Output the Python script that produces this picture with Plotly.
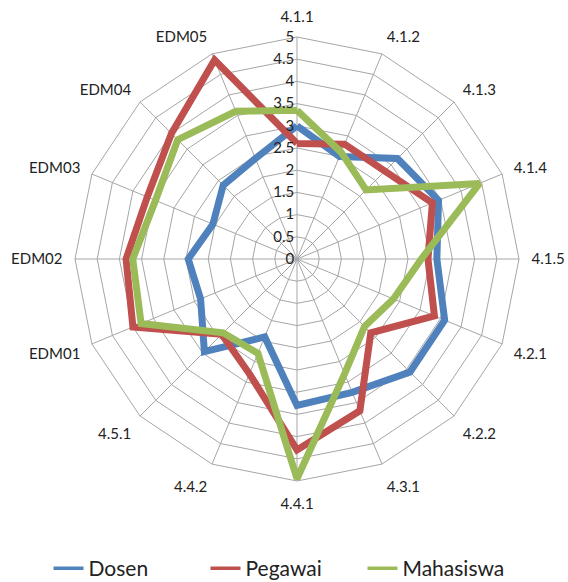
import plotly.graph_objects as go

categories = ["4.1.1", "4.1.2", "4.1.3", "4.1.4", "4.1.5", "4.2.1", "4.2.2", "4.3.1",
              "4.4.1", "4.4.2", "4.5.1", "EDM01", "EDM02", "EDM03", "EDM04", "EDM05"]
dosen = [3.0, 2.5, 3.2, 3.45, 3.15, 3.6, 3.6, 3.25, 3.3, 1.9, 2.95, 2.35, 2.45, 2.05, 2.35, 2.45]
pegawai = [2.6, 2.8, 2.8, 3.3, 2.95, 3.35, 2.35, 3.7, 4.3, 2.8, 2.4, 4.0, 3.85, 3.65, 4.0, 4.85]
mahasiswa = [3.35, 2.6, 2.2, 4.45, 2.8, 2.35, 2.15, 2.8, 4.95, 2.3, 2.35, 3.8, 3.7, 3.45, 3.8, 3.6]
series_names = ["Dosen", "Pegawai", "Mahasiswa"]
colors = ["#4F81BD", "#C0504D", "#9BBB59"]
radial_ticks = [0, 0.5, 1, 1.5, 2, 2.5, 3, 3.5, 4, 4.5, 5]

fig = go.Figure()
for name, vals, col in zip(series_names, [dosen, pegawai, mahasiswa], colors):
    fig.add_trace(go.Scatterpolar(
        r=vals + vals[:1],
        theta=categories + categories[:1],
        mode="lines",
        name=name,
        showlegend=False,
        line=dict(color=col, width=7),
    ))
# thin legend entries
for name, col in zip(series_names, colors):
    fig.add_trace(go.Scatterpolar(
        r=[None], theta=[categories[0]], mode="lines", name=name,
        line=dict(color=col, width=3.5), showlegend=True,
    ))

W, H = 568, 582
cx, cy, R = 297, 259, 222
fig.update_layout(
    width=W, height=H,
    margin=dict(l=0, r=0, t=0, b=0, autoexpand=False),
    paper_bgcolor="white",
    plot_bgcolor="white",
    font=dict(family="Lato, 'Open Sans', sans-serif", color="#222222"),
    polar=dict(
        domain=dict(x=[(cx - R) / W, (cx + R) / W],
                    y=[(H - cy - R) / H, (H - cy + R) / H]),
        bgcolor="white",
        gridshape="linear",
        radialaxis=dict(
            range=[0, 5],
            tickvals=radial_ticks,
            ticktext=[f"{v:g}" for v in radial_ticks],
            angle=90,
            tickangle=90,
            side="counterclockwise",
            showline=False,
            ticks="",
            gridcolor="#A6A6A6",
            gridwidth=1,
            tickfont=dict(size=15, color="#222222"),
        ),
        angularaxis=dict(
            rotation=90,
            direction="clockwise",
            showline=True,
            linecolor="#A6A6A6",
            linewidth=1,
            gridcolor="#A6A6A6",
            gridwidth=1,
            ticks="outside",
            ticklen=9,
            tickcolor="rgba(0,0,0,0)",
            tickfont=dict(size=15, color="#222222"),
        ),
    ),
    legend=dict(
        orientation="h",
        x=0.5, xanchor="center",
        y=-0.012, yanchor="bottom",
        font=dict(size=21, color="#222222"),
        entrywidth=112,
    ),
    showlegend=True,
)

fig.write_html(
    "out.html",
    config={"displayModeBar": False},
    post_script="document.body.style.margin='0';document.body.style.overflow='hidden';",
)
